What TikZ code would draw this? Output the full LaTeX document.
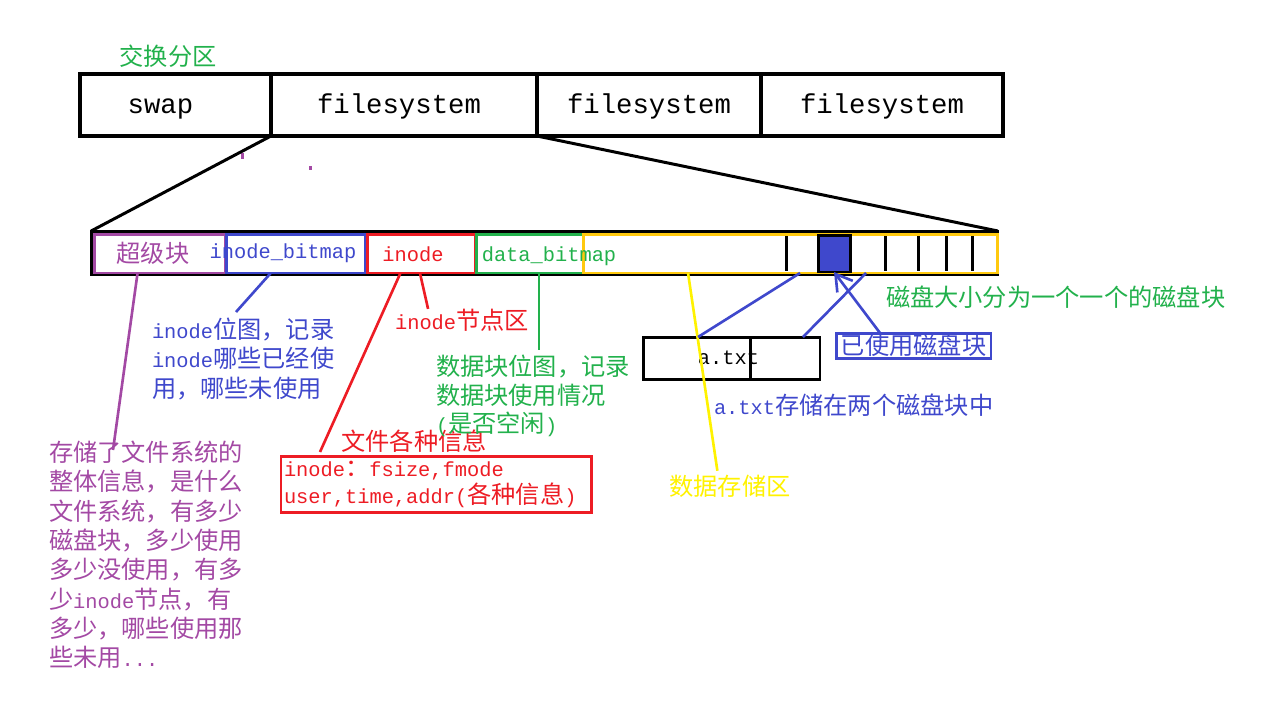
\documentclass[tikz,border=0pt]{standalone}
\usepackage{fontspec}
\setmainfont{Liberation Mono}[Scale=0.84]
\newfontfamily\cjk{Noto Sans CJK SC}
\newcommand\zh[1]{{\cjk #1}}
\usetikzlibrary{calc,positioning,arrows.meta}
\definecolor{pgreen}{RGB}{34,177,76}
\definecolor{ppurple}{RGB}{163,73,164}
\definecolor{pblue}{RGB}{63,72,204}
\definecolor{pred}{RGB}{237,28,36}
\definecolor{pyellow}{RGB}{255,242,0}
\definecolor{porange}{RGB}{255,201,14}

\begin{document}
\begin{tikzpicture}
	[x=0.02cm,y=-0.02cm,
	cell/.style={draw,line width=2.8pt,inner sep=0,outer sep=0,minimum height=1.24cm,text height=12pt,text depth=2pt,font=\fontsize{18.5}{20}\selectfont},
	part/.style={draw,line width=1.7pt,inner sep=0,outer sep=0,minimum height=0.78cm},
	note/.style={inner sep=0,outer sep=0,font=\fontsize{13.8}{16.7}\selectfont},
	txt/.style={note,align=left,anchor=north west},
	wire/.style={line width=1.5pt}]
	\useasboundingbox (0,0) rectangle (1284,704);

	% disk partitions
	\node[note,text=pgreen] (swaplbl) at (168,56) {\zh{交换分区}};
	\node[cell,minimum width=3.82cm] (swap) at (175.5,105) {swap\kern0.6cm};
	\node[cell,minimum width=5.32cm] (fs1) at (404,105) {filesystem\kern0.2cm};
	\node[cell,minimum width=4.48cm] (fs2) at (649,105) {filesystem};
	\node[cell,minimum width=4.84cm] (fs3) at (882,105) {filesystem};
	\fill[ppurple] (240.5,153) rectangle (243.5,159);
	\fill[ppurple] (308.5,166) rectangle (311.5,170);

	% one filesystem
	\node[part,minimum width=18.14cm,minimum height=0.88cm] (strip) at (544.5,253) {};
	\node[part,draw=ppurple,minimum width=2.64cm] (sb) at (160,253.5) {};
	\node[part,draw=pblue,minimum width=2.8cm] (ibm) at (296,253.5) {};
	\node[part,draw=pred,minimum width=2.16cm] (ino) at (421,253.5) {};
	\node[part,draw=pgreen,minimum width=2.14cm] (dbm) at (529.5,253.5) {};
	\node[part,draw=porange,minimum width=8.3cm] (data) at (790.5,253.5) {};
	\foreach \x in {786,885,918,946,972}
		\draw[line width=1.7pt] (\x,236) -- (\x,271);
	\node[part,fill=pblue,minimum width=0.64cm,minimum height=0.74cm] (used) at (834,253.5) {};

	\node[note,text=ppurple] (sbtxt) at (153,253) {\zh{超级块}};
	\node[note,text=pblue] (ibtxt) at (283,253) {inode\_bitmap};
	\node[note,text=pred] (inotxt) at (413,254) {inode};
	\node[note,text=pgreen] (dbtxt) at (549,256) {data\_bitmap};

	% notes
	\node[txt,text=ppurple] (sbnote) at (49,441)
		{\zh{存储了文件系统的}\\\zh{整体信息，是什么}\\\zh{文件系统，有多少}\\\zh{磁盘块，多少使用}\\\zh{多少没使用，有多}\\\zh{少}inode\zh{节点，有}\\\zh{多少，哪些使用那}\\\zh{些未用}...};
	\node[txt,text=pblue] (ibnote) at (152,318)
		{inode\zh{位图，记录}\\inode\zh{哪些已经使}\\\zh{用，哪些未使用}};
	\node[note,text=pred] (innote) at (462,320) {inode\zh{节点区}};
	\node[note,text=pred] (infonote) at (414,441) {\zh{文件各种信息}};
	\node[draw=pred,line width=1.7pt,outer sep=0,inner xsep=0.06cm,text width=6.1cm,minimum height=1.12cm,
		align=left,anchor=north west,text=pred,font=\fontsize{13.8}{15.4}\selectfont] (inodebox) at (281,456)
		{inode\zh{：}fsize,fmode\\user,time,addr(\zh{各种信息})};
	\node[txt,text=pgreen,font=\fontsize{13.8}{16.2}\selectfont] (dbnote) at (436,355)
		{\zh{数据块位图，记录}\\\zh{数据块使用情况}\\(\zh{是否空闲})};
	\node[note,text=pyellow] (dsnote) at (730,486) {\zh{数据存储区}};
	\node[part,note,draw,line width=1.7pt,minimum width=3.54cm,minimum height=0.84cm] (file) at (731.5,358) {a.txt\kern0.12cm};
	\draw[line width=1.7pt] ($(file.north west)+(107,0)$) -- ($(file.south west)+(107,0)$);
	\node[note,text=pblue,anchor=west] (storenote) at (714,405) {a.txt\zh{存储在两个磁盘块中}};
	\node[note,draw=pblue,line width=1.7pt,text=pblue,minimum width=3.1cm,minimum height=0.5cm] (usedlbl) at (913.5,345.5) {\zh{已使用磁盘块}};
	\node[note,text=pgreen,anchor=west] (sizenote) at (886,297) {\zh{磁盘大小分为一个一个的磁盘块}};

	% connectors
	\draw[line width=1.7pt] (swap.south east) -- (strip.north west);
	\draw[line width=1.7pt] (fs1.south east) -- (strip.north east);
	\draw[wire,ppurple] ($(sb.south west)!0.33!(sb.south east)$) -- ($(sbnote.north west)+(64,9)$);
	\draw[wire,pblue] ($(ibm.south west)!0.32!(ibm.south east)$) -- ($(ibnote.north west)+(84,-6)$);
	\draw[wire,pred] ($(ino.south west)!0.31!(ino.south east)$) -- ($(inodebox.north west)+(39,-4)$);
	\draw[wire,pred] ($(ino.south west)!0.49!(ino.south east)$) -- ($(innote.north west)+(33,0)$);
	\draw[wire,pgreen] ($(dbm.south west)!0.59!(dbm.south east)$) -- ++(0,77);
	\draw[wire,pyellow] ($(data.south west)!0.253!(data.south east)$) -- ($(dsnote.north west)+(48,-4)$);
	\draw[wire,pblue] ($(file.north west)+(55,0)$) -- ($(data.south west)+(217,0)$);
	\draw[wire,pblue] ($(file.north east)+(-17,0)$) -- ($(data.south west)+(283,0)$);
	\draw[wire,pblue,-{Straight Barb[length=9pt,width=11pt]}] ($(usedlbl.north west)+(44,0)$) -- (used.south);
\end{tikzpicture}
\end{document}
